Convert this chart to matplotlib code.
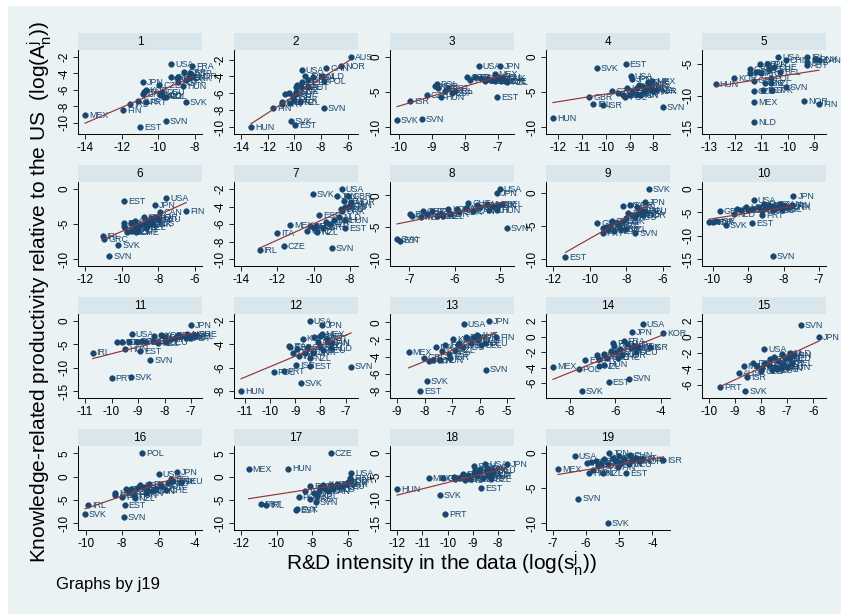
import numpy as np
import matplotlib
matplotlib.use("Agg")
import matplotlib.pyplot as plt
from matplotlib.patches import Rectangle

plt.rcParams['font.family'] = ['Liberation Sans', 'DejaVu Sans']
plt.rcParams['mathtext.fontset'] = 'custom'
plt.rcParams['mathtext.rm'] = 'Liberation Sans'
plt.rcParams['mathtext.it'] = 'Liberation Sans'
plt.rcParams['mathtext.bf'] = 'Liberation Sans:bold'

# (country, log R&D intensity, log knowledge productivity relative to US), one list per industry j19
panel_1 = [("MEX", -14.0, -9.1), ("FIN", -11.9, -8.45), ("EST", -11.0, -10.5), ("SVN", -9.6, -9.8),
           ("SVK", -8.5, -7.5), ("USA", -9.3, -2.9), ("FRA", -8.15, -3.05), ("JPN", -10.85, -5.0),
           ("HUN", -8.65, -5.5), ("PRT", -10.7, -7.5), ("AUS", -11.1, -7.3), ("IRL", -11.55, -7.7),
           ("ITA", -10.8, -6.3), ("KOR", -10.7, -6.0), ("GRC", -10.85, -6.5), ("NZL", -9.7, -6.8),
           ("DEU", -9.8, -6.2), ("NLD", -9.9, -6.6), ("CZE", -9.95, -5.4), ("POL", -9.6, -6.8),
           ("ESP", -8.25, -3.9), ("GBR", -8.6, -3.8), ("CAN", -8.9, -4.4), ("NOR", -8.1, -4.3),
           ("BEL", -8.5, -4.8), ("DNK", -8.3, -4.5), ("AUT", -8.9, -5.0), ("ISR", -9.3, -4.4),
           ("CHE", -9.0, -4.6)]
panel_2 = [("AUS", -5.75, -1.7), ("NOR", -6.5, -2.8), ("CAN", -7.6, -3.0), ("USA", -9.45, -3.25),
           ("NLD", -7.9, -3.95), ("POL", -7.75, -4.5), ("SVN", -7.8, -7.7), ("SVK", -10.25, -9.3),
           ("EST", -9.95, -9.8), ("HUN", -13.25, -10.0), ("FIN", -11.6, -7.7), ("PRT", -10.9, -7.3),
           ("IRL", -10.95, -7.0), ("JPN", -9.2, -4.0), ("FRA", -8.6, -4.1), ("GBR", -9.0, -4.4),
           ("DEU", -9.4, -4.7), ("BEL", -9.8, -5.0), ("ESP", -9.9, -5.3), ("ITA", -10.4, -6.0),
           ("CZE", -9.5, -5.3), ("AUT", -9.0, -5.3), ("DNK", -9.85, -5.8), ("KOR", -10.7, -6.1),
           ("ISR", -10.1, -6.4), ("MEX", -10.0, -6.8), ("NZL", -9.6, -7.0), ("GRC", -10.3, -7.1),
           ("CHE", -9.9, -6.1)]
panel_3 = [("USA", -7.58, -1.25), ("JPN", -6.93, -1.25), ("MEX", -7.1, -2.4), ("NZL", -6.73, -3.6),
           ("EST", -7.03, -5.75), ("SVK", -10.05, -9.0), ("SVN", -9.3, -8.85), ("ISR", -9.65, -6.3),
           ("HUN", -8.72, -5.7), ("CZE", -9.15, -5.4), ("POL", -8.85, -3.9), ("ITA", -8.8, -4.4),
           ("PRT", -8.5, -4.4), ("GRC", -8.6, -4.9), ("ESP", -8.4, -5.1), ("IRL", -8.3, -4.8),
           ("KOR", -8.9, -4.2), ("GBR", -7.95, -2.9), ("FRA", -7.7, -2.8), ("CAN", -7.5, -3.0),
           ("AUS", -7.3, -3.2), ("DEU", -7.0, -2.8), ("NLD", -7.2, -3.3), ("NOR", -6.9, -3.4),
           ("BEL", -7.4, -3.5), ("DNK", -6.85, -3.0), ("AUT", -7.1, -3.4), ("CHE", -6.8, -3.5),
           ("FIN", -7.85, -3.3)]
panel_4 = [("HUN", -12.23, -8.75), ("SVK", -10.38, -1.6), ("EST", -9.17, -1.07), ("USA", -8.95, -2.7),
           ("JPN", -8.9, -3.1), ("MEX", -8.05, -3.5), ("SVN", -7.6, -7.2), ("GBR", -10.7, -5.7),
           ("IRL", -10.55, -6.7), ("ISR", -10.13, -6.9), ("POL", -9.2, -5.7), ("CZE", -9.75, -4.9),
           ("ITA", -9.5, -5.2), ("PRT", -9.3, -5.4), ("GRC", -9.0, -5.5), ("ESP", -8.9, -4.9),
           ("FRA", -8.7, -4.5), ("DEU", -8.5, -4.2), ("NLD", -8.3, -4.6), ("BEL", -8.1, -4.4),
           ("NZL", -7.9, -4.7), ("AUT", -8.4, -5.0), ("CAN", -8.6, -4.0), ("AUS", -8.2, -3.9),
           ("NOR", -8.0, -4.9), ("DNK", -8.75, -5.3), ("KOR", -9.1, -4.5), ("CHE", -8.25, -3.6),
           ("FIN", -8.55, -5.4)]
panel_5 = [("HUN", -12.74, -8.15), ("KOR", -12.03, -7.15), ("USA", -10.35, -3.85), ("IRL", -9.26, -3.85),
           ("CHN", -10.06, -4.4), ("AUT", -9.26, -5.15), ("DNK", -8.94, -4.2), ("BEL", -10.29, -6.2),
           ("POL", -10.65, -7.25), ("NLD", -11.28, -14.2), ("MEX", -11.28, -11.0), ("NOR", -9.36, -10.85),
           ("FIN", -8.8, -11.3), ("SVN", -10.06, -8.7), ("EST", -10.94, -9.1), ("CZE", -11.28, -9.25),
           ("JPN", -10.8, -4.9), ("DEU", -11.04, -4.9), ("ESP", -10.7, -5.8), ("GBR", -11.45, -5.8),
           ("FRA", -11.45, -6.4), ("ITA", -11.2, -6.2), ("PRT", -11.0, -6.4), ("GRC", -11.3, -7.6),
           ("ISR", -10.85, -8.0), ("NZL", -10.65, -8.0), ("SVK", -10.6, -9.1), ("CAN", -8.8, -4.4),
           ("AUS", -9.26, -4.7), ("CHE", -10.5, -5.5)]
panel_6 = [("EST", -9.87, -1.7), ("USA", -7.57, -1.3), ("JPN", -8.17, -2.25), ("CAN", -7.93, -3.3),
           ("FIN", -6.48, -3.2), ("SVK", -10.19, -8.0), ("SVN", -10.68, -9.6), ("IRL", -11.04, -6.7),
           ("GRC", -10.95, -7.1), ("ITA", -9.9, -4.9), ("ESP", -9.9, -5.3), ("PRT", -9.8, -5.6),
           ("POL", -9.5, -4.9), ("CZE", -9.3, -4.6), ("HUN", -9.3, -5.4), ("KOR", -9.0, -5.2),
           ("ISR", -8.8, -4.0), ("GBR", -8.6, -4.5), ("FRA", -8.4, -4.2), ("NOR", -8.2, -4.0),
           ("DEU", -8.0, -4.3), ("NLD", -8.8, -5.0), ("BEL", -8.7, -5.5), ("AUT", -9.1, -5.9),
           ("NZL", -9.5, -6.0), ("MEX", -9.7, -6.2), ("AUS", -8.3, -4.8), ("DNK", -8.5, -5.0),
           ("CHE", -9.2, -6.2)]
panel_7 = [("IRL", -12.98, -8.95), ("CZE", -11.66, -8.5), ("ITA", -12.0, -7.0), ("MEX", -11.28, -6.15),
           ("SVN", -9.0, -8.75), ("SVK", -10.06, -2.55), ("USA", -8.45, -2.0), ("JPN", -8.73, -2.85),
           ("GBR", -8.1, -2.85), ("NOR", -7.95, -3.5), ("AUS", -8.27, -4.05), ("HUN", -8.27, -5.55),
           ("EST", -8.27, -6.5), ("FRA", -8.35, -3.4), ("CAN", -8.0, -3.8), ("DEU", -8.5, -4.3),
           ("DNK", -8.45, -4.5), ("FIN", -8.1, -4.0), ("NLD", -8.6, -5.2), ("BEL", -8.9, -5.5),
           ("ESP", -9.7, -5.0), ("KOR", -9.3, -5.8), ("POL", -9.9, -6.2), ("PRT", -10.0, -6.5),
           ("GRC", -10.35, -6.8), ("NZL", -9.8, -6.9), ("ISR", -9.5, -6.4), ("AUT", -9.1, -6.0),
           ("CHE", -10.2, -6.2)]
panel_8 = [("USA", -5.01, 1.0), ("JPN", -5.07, 0.4), ("SVN", -4.85, -5.2), ("SVK", -7.27, -6.8),
           ("EST", -7.21, -7.1), ("BEL", -4.96, -1.4), ("HUN", -5.07, -2.3), ("ITA", -6.98, -2.9),
           ("PRT", -6.95, -3.2), ("MEX", -6.75, -3.4), ("GRC", -6.7, -2.4), ("ESP", -6.6, -3.0),
           ("POL", -6.5, -2.5), ("CZE", -6.4, -3.3), ("IRL", -6.3, -2.9), ("NZL", -6.25, -3.3),
           ("ISR", -6.1, -2.9), ("KOR", -6.15, -2.2), ("AUS", -5.95, -2.2), ("GBR", -5.9, -2.6),
           ("NOR", -5.75, -2.0), ("CAN", -5.6, -2.5), ("FRA", -5.5, -1.5), ("DEU", -5.45, -1.9),
           ("NLD", -5.3, -1.3), ("AUT", -5.25, -2.3), ("DNK", -5.15, -1.6), ("FIN", -5.05, -1.5),
           ("CHE", -5.7, -1.2)]
panel_9 = [("SVK", -6.78, 0.6), ("JPN", -6.96, -1.4), ("EST", -11.32, -9.75), ("SVN", -7.51, -6.05),
           ("GBR", -9.59, -4.55), ("USA", -8.18, -1.9), ("KOR", -7.8, -1.8), ("FIN", -7.4, -2.2),
           ("CAN", -7.2, -2.6), ("FRA", -7.3, -3.0), ("DEU", -7.0, -2.7), ("NOR", -7.1, -3.4),
           ("AUS", -7.5, -3.6), ("NLD", -7.7, -3.3), ("BEL", -7.9, -3.0), ("AUT", -8.0, -3.8),
           ("DNK", -8.2, -4.3), ("ESP", -8.5, -4.5), ("ITA", -8.8, -4.2), ("CZE", -8.4, -4.9),
           ("POL", -8.9, -5.0), ("HUN", -9.3, -5.3), ("PRT", -9.3, -6.0), ("IRL", -9.0, -5.6),
           ("MEX", -8.7, -5.8), ("ISR", -8.3, -5.4), ("GRC", -9.1, -5.2), ("NZL", -8.0, -5.5),
           ("CHE", -7.4, -3.2)]
panel_10 = [("JPN", -7.72, -1.6), ("USA", -8.84, -2.45), ("SVN", -8.3, -14.4), ("EST", -8.88, -7.2),
            ("SVK", -9.63, -7.75), ("GBR", -9.79, -4.7), ("NOR", -10.1, -7.1), ("IRL", -10.0, -7.0),
            ("ISR", -9.9, -6.9), ("PRT", -8.6, -5.6), ("NLD", -9.4, -5.3), ("ITA", -9.3, -4.2),
            ("CZE", -9.2, -4.5), ("HUN", -9.05, -3.9), ("POL", -9.0, -4.4), ("ESP", -8.85, -4.3),
            ("KOR", -8.7, -3.9), ("GRC", -8.6, -4.8), ("MEX", -8.5, -4.1), ("FRA", -8.4, -3.5),
            ("DEU", -8.3, -3.7), ("AUS", -8.2, -4.0), ("CAN", -8.1, -3.3), ("BEL", -8.05, -4.3),
            ("AUT", -7.95, -3.6), ("DNK", -7.85, -3.9), ("FIN", -7.75, -3.4), ("NZL", -8.3, -4.6),
            ("CHE", -8.55, -3.2)]
panel_11 = [("JPN", -7.0, -0.9), ("IRL", -10.71, -6.75), ("PRT", -10.0, -12.25), ("SVK", -9.27, -12.1),
            ("SVN", -8.54, -8.35), ("USA", -9.23, -2.7), ("EST", -8.91, -6.4), ("HUN", -9.49, -6.1),
            ("MEX", -9.8, -4.6), ("ITA", -9.6, -4.6), ("POL", -9.35, -4.5), ("CZE", -9.05, -4.4),
            ("GRC", -8.85, -4.2), ("ESP", -8.7, -4.5), ("ISR", -8.45, -4.3), ("NZL", -8.25, -4.7),
            ("KOR", -8.15, -3.0), ("GBR", -8.0, -3.5), ("DEU", -7.95, -4.6), ("FRA", -7.75, -3.9),
            ("AUS", -7.6, -3.6), ("CAN", -7.4, -3.3), ("NLD", -7.2, -3.5), ("NOR", -7.15, -2.8),
            ("BEL", -6.9, -3.2), ("AUT", -7.05, -3.6), ("DNK", -7.5, -3.0), ("FIN", -8.4, -3.2),
            ("CHE", -6.85, -2.9)]
panel_12 = [("HUN", -11.15, -8.0), ("USA", -8.42, -2.0), ("JPN", -7.95, -2.35), ("SVN", -6.79, -5.9),
            ("SVK", -8.78, -7.35), ("POL", -9.86, -6.4), ("PRT", -9.46, -6.25), ("ISR", -8.97, -5.8),
            ("EST", -8.42, -5.85), ("MEX", -7.95, -3.1), ("NZL", -8.42, -5.2), ("IRL", -8.87, -5.0),
            ("GRC", -9.08, -4.7), ("ITA", -9.25, -4.15), ("ESP", -9.2, -4.2), ("CZE", -8.95, -4.4),
            ("KOR", -8.7, -3.5), ("GBR", -8.5, -4.2), ("FRA", -8.25, -3.4), ("DEU", -7.9, -4.5),
            ("AUS", -8.1, -3.8), ("CAN", -7.7, -3.8), ("NLD", -7.6, -4.3), ("BEL", -8.0, -4.1),
            ("AUT", -7.75, -3.5), ("FIN", -7.55, -3.9), ("DNK", -8.3, -4.7), ("NOR", -8.6, -4.7),
            ("CHE", -8.0, -3.3)]
panel_13 = [("JPN", -5.64, 0.15), ("USA", -6.58, -0.2), ("FIN", -5.39, -1.75), ("DEU", -5.79, -2.4),
            ("MEX", -8.58, -3.5), ("SVN", -5.76, -5.5), ("SVK", -7.91, -6.8), ("EST", -8.15, -8.0),
            ("GRC", -8.03, -4.1), ("PRT", -7.85, -4.5), ("POL", -7.7, -4.4), ("HUN", -7.42, -4.35),
            ("ISR", -7.06, -4.1), ("ITA", -7.6, -2.9), ("CZE", -7.35, -3.3), ("IRL", -7.25, -2.7),
            ("ESP", -7.1, -3.7), ("KOR", -6.95, -2.0), ("NZL", -6.9, -3.2), ("GBR", -6.75, -2.4),
            ("AUS", -6.6, -2.9), ("FRA", -6.45, -1.8), ("CAN", -6.3, -2.4), ("NOR", -6.2, -1.7),
            ("NLD", -6.05, -2.1), ("BEL", -5.95, -2.6), ("AUT", -6.1, -1.5), ("DNK", -6.5, -1.7),
            ("CHE", -6.8, -2.7)]
panel_14 = [("USA", -4.8, 1.65), ("JPN", -5.27, 0.6), ("KOR", -3.91, 0.45), ("MEX", -8.73, -3.85),
            ("POL", -7.61, -4.15), ("EST", -6.29, -5.9), ("SVN", -5.4, -5.4), ("SVK", -7.46, -7.0),
            ("ESP", -7.31, -3.0), ("NZL", -6.7, -3.8), ("HUN", -6.5, -3.6), ("ISR", -4.5, -1.4),
            ("FRA", -5.64, -0.6), ("GRC", -6.8, -2.4), ("PRT", -6.7, -2.9), ("ITA", -6.5, -2.2),
            ("CZE", -6.35, -2.7), ("IRL", -6.2, -1.9), ("GBR", -6.05, -1.2), ("AUS", -5.95, -2.0),
            ("CAN", -5.8, -1.6), ("NLD", -5.5, -1.0), ("BEL", -5.3, -1.5), ("DEU", -5.1, -2.0),
            ("AUT", -5.2, -1.2), ("NOR", -5.7, -2.4), ("DNK", -5.0, -1.4), ("FIN", -6.1, -0.8),
            ("CHE", -5.9, -2.7)]
panel_15 = [("SVN", -6.47, 1.45), ("JPN", -5.78, 0.0), ("USA", -7.89, -1.45), ("PRT", -9.57, -6.25),
            ("SVK", -8.6, -6.75), ("ISR", -8.54, -5.0), ("AUS", -8.86, -4.45), ("MEX", -8.67, -3.6),
            ("ITA", -8.3, -3.3), ("POL", -8.15, -3.6), ("CZE", -8.0, -4.3), ("GRC", -7.95, -3.9),
            ("ESP", -7.85, -3.2), ("IRL", -7.65, -2.8), ("NZL", -7.6, -4.1), ("KOR", -7.45, -3.7),
            ("GBR", -7.35, -3.0), ("FRA", -7.2, -2.1), ("EST", -7.15, -3.4), ("HUN", -7.0, -3.8),
            ("DEU", -6.95, -2.6), ("BEL", -6.8, -3.2), ("NLD", -6.9, -2.0), ("AUT", -7.1, -2.6),
            ("CAN", -7.25, -3.9), ("NOR", -7.5, -2.5), ("DNK", -7.7, -3.5), ("FIN", -6.75, -2.3),
            ("CHE", -7.4, -4.0)]
panel_16 = [("POL", -6.89, 5.1), ("USA", -5.99, 0.55), ("JPN", -4.99, 0.9), ("DEU", -4.79, -1.05),
            ("IRL", -9.87, -6.05), ("SVK", -10.04, -8.15), ("EST", -7.87, -6.15), ("SVN", -7.9, -8.8),
            ("NZL", -7.32, -4.65), ("MEX", -8.37, -3.5), ("GRC", -8.37, -4.0), ("PRT", -8.0, -4.4),
            ("ITA", -7.8, -2.6), ("CZE", -7.6, -3.2), ("ESP", -7.5, -2.6), ("HUN", -7.35, -3.9),
            ("ISR", -7.2, -2.5), ("KOR", -7.0, -1.8), ("GBR", -6.8, -2.2), ("AUS", -6.65, -2.9),
            ("FRA", -6.5, -1.6), ("CAN", -6.35, -3.2), ("AUT", -6.15, -2.6), ("NOR", -5.85, -2.0),
            ("NLD", -5.5, -1.4), ("BEL", -5.3, -0.6), ("DNK", -5.2, -1.0), ("FIN", -6.7, -3.5),
            ("CHE", -5.6, -2.8)]
panel_17 = [("CZE", -6.95, 5.1), ("MEX", -11.57, 1.55), ("HUN", -9.33, 1.75), ("USA", -5.81, 0.7),
            ("PRT", -10.9, -5.9), ("IRL", -10.59, -6.05), ("SVK", -8.85, -6.95), ("EST", -8.9, -7.2),
            ("SVN", -7.8, -5.5), ("POL", -8.75, -4.4), ("GRC", -8.13, -4.8), ("GBR", -5.81, -0.7),
            ("DEU", -6.29, -2.1), ("ITA", -8.4, -3.2), ("ESP", -8.1, -2.1), ("ISR", -7.9, -3.6),
            ("NZL", -7.7, -4.2), ("KOR", -7.55, -2.3), ("AUS", -7.4, -1.7), ("FRA", -7.25, -2.7),
            ("CAN", -7.1, -3.2), ("NOR", -6.95, -1.9), ("NLD", -6.8, -2.6), ("BEL", -6.6, -1.5),
            ("AUT", -6.45, -2.3), ("DNK", -6.1, -1.6), ("FIN", -5.85, -0.3), ("CHE", -7.6, -3.0),
            ("JPN", -6.0, -1.2)]
panel_18 = [("JPN", -7.65, -2.3), ("USA", -8.51, -2.45), ("HUN", -12.0, -7.8), ("SVK", -10.31, -8.95),
            ("PRT", -10.09, -13.0), ("MEX", -10.75, -5.4), ("GRC", -10.18, -5.4), ("EST", -8.68, -7.5),
            ("AUT", -8.24, -4.7), ("SVN", -8.97, -2.8), ("ITA", -9.75, -5.1), ("POL", -9.7, -5.6),
            ("CZE", -9.55, -5.3), ("ESP", -9.4, -4.6), ("IRL", -9.3, -5.8), ("KOR", -9.2, -4.8),
            ("NZL", -9.1, -5.6), ("ISR", -8.95, -4.3), ("GBR", -8.85, -5.0), ("FRA", -8.75, -4.1),
            ("AUS", -8.6, -5.3), ("CAN", -8.5, -3.9), ("NLD", -8.4, -4.6), ("BEL", -8.3, -5.6),
            ("DEU", -8.2, -3.6), ("NOR", -8.7, -3.5), ("DNK", -8.45, -3.3), ("FIN", -8.9, -3.7),
            ("CHE", -8.35, -5.0)]
panel_19 = [("ISR", -3.68, -0.95), ("MEX", -6.85, -2.25), ("USA", -6.34, -0.45), ("JPN", -5.32, -0.05),
            ("CHN", -4.69, -0.35), ("SVN", -6.24, -6.5), ("SVK", -5.35, -10.0), ("EST", -4.8, -2.8),
            ("NZL", -5.5, -2.8), ("HUN", -5.9, -2.85), ("PRT", -5.8, -2.45), ("ITA", -5.97, -1.45),
            ("IRL", -5.85, -1.3), ("GRC", -5.7, -1.1), ("POL", -5.65, -1.9), ("CZE", -5.55, -1.5),
            ("ESP", -5.45, -0.9), ("KOR", -5.35, -1.6), ("GBR", -5.2, -0.7), ("FRA", -5.1, -1.2),
            ("AUS", -5.0, -0.4), ("CAN", -4.95, -1.4), ("NLD", -4.85, -0.9), ("DEU", -4.7, -1.6),
            ("BEL", -4.6, -1.0), ("AUT", -4.5, -0.7), ("NOR", -4.4, -1.2), ("DNK", -4.3, -0.8),
            ("FIN", -5.05, -2.0)]

# axis tick values for each panel
xticks_by_panel = [
    [-14, -12, -10, -8], [-14, -12, -10, -8, -6], [-10, -9, -8, -7], [-12, -11, -10, -9, -8],
    [-13, -12, -11, -10, -9], [-12, -10, -8, -6], [-14, -12, -10, -8], [-7, -6, -5],
    [-12, -10, -8, -6], [-10, -9, -8, -7], [-11, -10, -9, -8, -7], [-11, -10, -9, -8, -7],
    [-9, -8, -7, -6, -5], [-8, -6, -4], [-10, -9, -8, -7, -6], [-10, -8, -6, -4],
    [-12, -10, -8, -6], [-12, -11, -10, -9, -8], [-7, -6, -5, -4]]
yticks_by_panel = [
    [-10, -8, -6, -4, -2], [-10, -8, -6, -4, -2], [-10, -5, 0], [-10, -5, 0],
    [-15, -10, -5], [-10, -5, 0], [-10, -8, -6, -4, -2], [-10, -5, 0],
    [-10, -5, 0], [-15, -10, -5, 0], [-15, -10, -5, 0], [-8, -6, -4, -2],
    [-8, -6, -4, -2, 0], [-6, -4, -2, 0, 2], [-6, -4, -2, 0, 2], [-10, -5, 0, 5],
    [-10, -5, 0, 5], [-15, -10, -5, 0], [-10, -5, 0]]

panels = [panel_1, panel_2, panel_3, panel_4, panel_5, panel_6, panel_7, panel_8, panel_9,
          panel_10, panel_11, panel_12, panel_13, panel_14, panel_15, panel_16, panel_17,
          panel_18, panel_19]

BG = "#EAF2F3"
STRIP = "#D9E6EB"
NAVY = "#1a476f"
MAROON = "#90353b"

W, H = 841, 616
fig = plt.figure(figsize=(W / 100, H / 100), dpi=100, facecolor="white")
fig.patches.append(Rectangle((8 / W, 2 / H), 1 - 8 / W, 1 - 8 / H, transform=fig.transFigure,
                             facecolor=BG, edgecolor="none", zorder=-10))


def padded_range(vals, ticks, npx, pad_px=7.0):
    lo = min(min(vals), min(ticks))
    hi = max(max(vals), max(ticks))
    scale = (npx - 2 * pad_px) / (hi - lo)
    pad = pad_px / scale
    return lo - pad, hi + pad


AX_W, AX_H, STRIP_H = 124, 84, 17
for i, pts in enumerate(panels):
    r, c = divmod(i, 5)
    left = 78 + 156 * c
    top = 50 + 132 * r
    ax = fig.add_axes([left / W, 1 - (top + AX_H) / H, AX_W / W, AX_H / H])
    ax.set_facecolor(BG)
    codes = [p[0] for p in pts]
    xs = np.array([p[1] for p in pts])
    ys = np.array([p[2] for p in pts])

    ax.scatter(xs, ys, s=17, color=NAVY, edgecolors=NAVY, linewidths=0.3, zorder=3)
    for code, x, y in zip(codes, xs, ys):
        ax.annotate(code, (x, y), xytext=(2.8, -0.3), textcoords="offset points",
                    fontsize=6.4, color=NAVY, ha="left", va="center", zorder=3,
                    annotation_clip=False)

    slope, intercept = np.polyfit(xs, ys, 1)
    xl = np.array([xs.min(), xs.max()])
    ax.plot(xl, intercept + slope * xl, color=MAROON, lw=0.85, zorder=4)

    xt, yt = xticks_by_panel[i], yticks_by_panel[i]
    ax.set_xlim(*padded_range(xs, xt, AX_W))
    ax.set_ylim(*padded_range(ys, yt, AX_H))
    ax.set_xticks(xt)
    ax.set_xticklabels([str(t) for t in xt])
    ax.set_yticks(yt)
    ax.set_yticklabels([str(t) for t in yt], rotation=90, va="center")
    ax.tick_params(direction="out", length=3.5, width=0.6, labelsize=8.5, pad=2, color="#000000")
    for side in ("top", "right"):
        ax.spines[side].set_visible(False)
    for side in ("left", "bottom"):
        ax.spines[side].set_linewidth(0.7)
        ax.spines[side].set_color("#000000")

    sax = fig.add_axes([left / W, 1 - (top) / H, AX_W / W, STRIP_H / H])
    sax.set_facecolor(STRIP)
    sax.set_xticks([])
    sax.set_yticks([])
    for s in sax.spines.values():
        s.set_visible(False)
    sax.text(0.5, 0.47, str(i + 1), ha="center", va="center", fontsize=8.5, transform=sax.transAxes)

fig.text(40 / W, 1 - 292 / H,
         r"Knowledge-related productivity relative to the US  (log($\mathregular{A_n^j}$))",
         rotation=90, fontsize=15, ha="center", va="center")
fig.text(442 / W, 1 - 564 / H, r"R&D intensity in the data (log($\mathregular{s_n^j}$))",
         fontsize=15, ha="center", va="center")
fig.text(56 / W, 1 - 584 / H, "Graphs by j19", fontsize=12, ha="left", va="center")

fig.savefig("out.png", dpi=100, facecolor=fig.get_facecolor())
